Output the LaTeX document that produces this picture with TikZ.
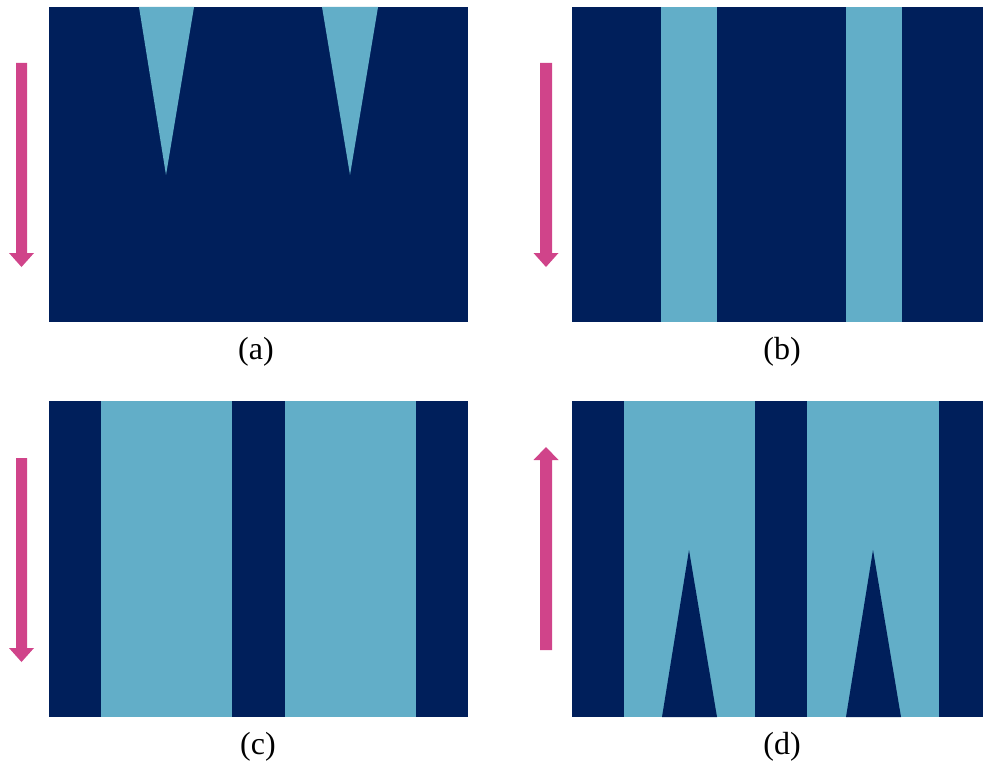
\documentclass[tikz,border=0pt]{standalone}
\usepackage{fontspec}
\setmainfont{Liberation Serif}
\definecolor{navy}{RGB}{0,31,91}
\definecolor{lightb}{RGB}{98,174,200}
\definecolor{pinkarr}{RGB}{208,68,138}
\begin{document}
\begin{tikzpicture}[x=1pt,y=-1pt,
  darkfill/.style={fill=navy},
  lightfill/.style={fill=lightb},
  arrowfill/.style={fill=pinkarr},
  caption/.style={font=\fontsize{32}{36}\selectfont, inner sep=0pt}]
\useasboundingbox (0,0) rectangle (983,765);
% panel (a)
\fill[darkfill] (49,7) rectangle (468,322);
\fill[lightfill] (139,7) -- (194,7) -- (166,175) -- cycle;
\fill[lightfill] (322,7) -- (378,7) -- (350,175) -- cycle;
% panel (b)
\fill[darkfill] (572,7) rectangle (983,322);
\fill[lightfill] (661,7) rectangle (717,322);
\fill[lightfill] (845.5,7) rectangle (901.5,322);
% panel (c)
\fill[darkfill] (49,401) rectangle (468,717);
\fill[lightfill] (101,401) rectangle (232,717);
\fill[lightfill] (285,401) rectangle (416,717);
% panel (d)
\fill[darkfill] (572,401) rectangle (983,717);
\fill[lightfill] (624,401) rectangle (755,717);
\fill[lightfill] (807,401) rectangle (939,717);
\fill[darkfill] (662,717) -- (689,550) -- (717,717) -- cycle;
\fill[darkfill] (846,717) -- (873,550) -- (901,717) -- cycle;
% arrows
\fill[arrowfill] (16,63) -- (27,63) -- (27,253) -- (34,253) -- (21.5,267) -- (9,253) -- (16,253) -- cycle;
\fill[arrowfill] (540,63) -- (552,63) -- (552,253) -- (558.5,253) -- (546,267) -- (533.5,253) -- (540,253) -- cycle;
\fill[arrowfill] (16,458) -- (27,458) -- (27,648) -- (34,648) -- (21.5,662) -- (9,648) -- (16,648) -- cycle;
\fill[arrowfill] (540,650) -- (552,650) -- (552,460) -- (558.5,460) -- (546,447) -- (533.5,460) -- (540,460) -- cycle;
% captions
\node[caption] (capa) at (256,352) {(a)};
\node[caption] (capb) at (782,352) {(b)};
\node[caption] (capc) at (258,747) {(c)};
\node[caption] (capd) at (782,747) {(d)};
\end{tikzpicture}
\end{document}
